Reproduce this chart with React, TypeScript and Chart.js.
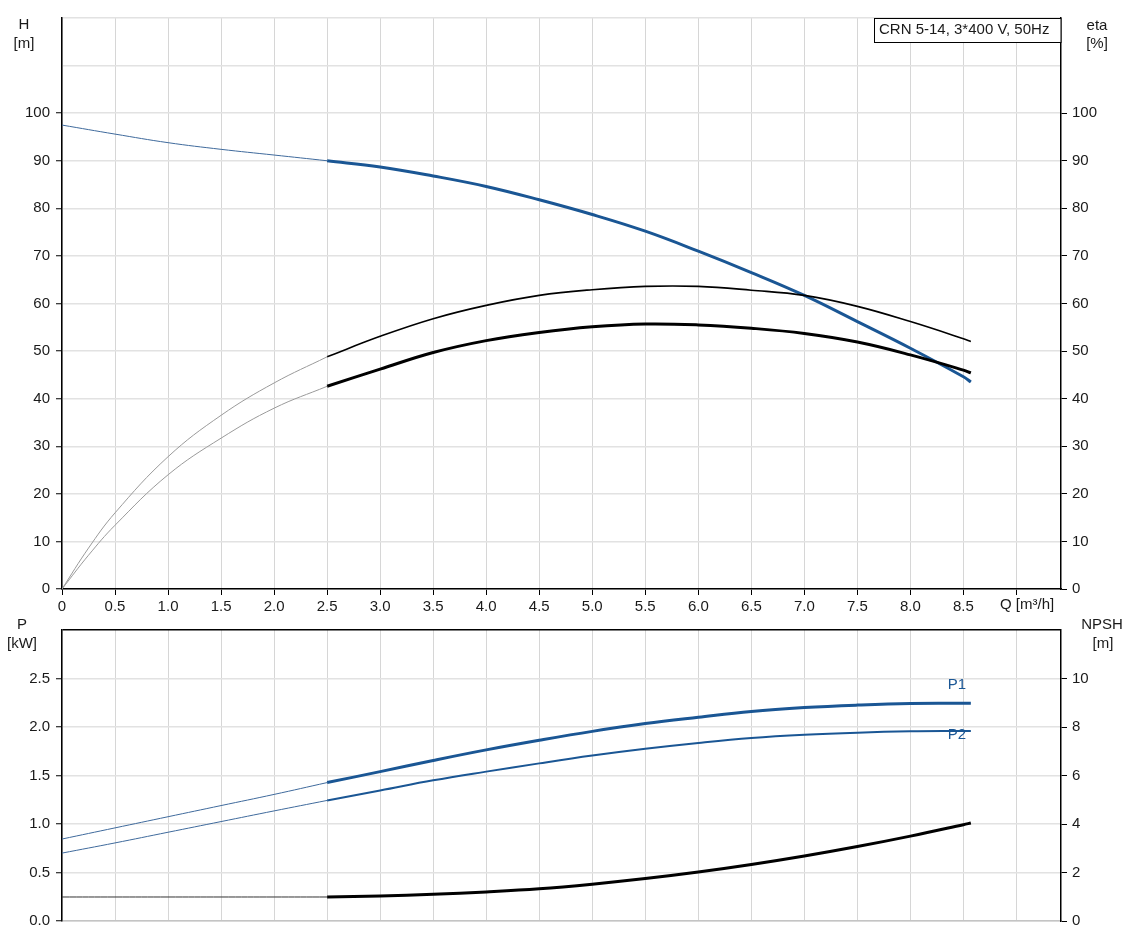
import React, { useEffect, useRef } from 'react';
import { Chart, registerables } from 'chart.js';

Chart.register(...registerables);

// ---------- data ----------
const qThin = [0, 0.5, 1.0, 1.5, 2.0, 2.5];
const qEtaThin = [0, 0.25, 0.5, 1.0, 1.5, 2.0, 2.5];
const qMain = [2.5, 3.0, 3.5, 4.0, 4.5, 5.0, 5.5, 6.0, 6.5, 7.0, 7.5, 8.0, 8.5, 8.57];

const headThin = [97.5, 95.6, 93.8, 92.4, 91.2, 90.0];
const headMain = [90.0, 88.7, 86.8, 84.6, 81.8, 78.7, 75.2, 71.0, 66.5, 61.7, 56.2, 50.6, 44.6, 43.5];

const etaUpperThin = [0, 8.6, 16.0, 27.8, 36.5, 43.3, 48.8];
const etaUpperMain = [48.8, 53.1, 56.8, 59.6, 61.7, 62.9, 63.6, 63.6, 62.8, 61.7, 59.4, 56.2, 52.6, 52.0];
const etaLowerThin = [0, 7.1, 13.4, 24.0, 31.7, 38.0, 42.6];
const etaLowerMain = [42.6, 46.2, 49.7, 52.2, 53.9, 55.1, 55.7, 55.5, 54.8, 53.7, 51.9, 49.2, 46.0, 45.4];

const p1Thin = [0.845, 0.96, 1.075, 1.19, 1.305, 1.427];
const p1Main = [1.427, 1.54, 1.655, 1.764, 1.863, 1.955, 2.035, 2.1, 2.16, 2.2, 2.226, 2.243, 2.245, 2.245];
const p2Thin = [0.7, 0.805, 0.915, 1.025, 1.135, 1.243];
const p2Main = [1.243, 1.345, 1.45, 1.54, 1.625, 1.705, 1.775, 1.835, 1.886, 1.92, 1.942, 1.955, 1.959, 1.96];
const npshThin = [0.99, 0.99, 0.99, 0.99, 0.99, 0.99];
const npshMain = [0.99, 1.03, 1.1, 1.2, 1.33, 1.52, 1.75, 2.02, 2.33, 2.68, 3.07, 3.5, 3.97, 4.04];

const qMin = 0;
const qMax = 9.42;
const qStep = 0.5;
const qAxisLabel = 'Q [m³/h]';
const hMax = 120;
const hLabelMax = 100;
const pMax = 3.0;
const npshMax = 12;
const infoText = 'CRN 5-14, 3*400 V, 50Hz';

// ---------- styles ----------
const FONT = '"Liberation Sans", Arial, sans-serif';
const FS = 15;
const BLUE = '#1a5694';
const TEXT = '#1a1a1a';
const GRID_V = '#d6d6d6';
const GRID_H = '#e2e2e2';

const line = (xs: number[], ys: number[], color: string, width: number, axis: string) => ({
  data: xs.map((x, i) => ({ x, y: ys[i] })),
  borderColor: color,
  backgroundColor: color,
  borderWidth: width,
  pointRadius: 0,
  fill: false,
  tension: 0.4,
  yAxisID: axis,
});

const tickMark = (limit: number) => (c: any) =>
  c.tick && c.tick.value > limit + 1e-9 ? 'rgba(0,0,0,0)' : '#000';

const topTexts = {
  id: 'topTexts',
  afterDraw(chart: any) {
    const ctx = chart.ctx;
    const a = chart.chartArea;
    ctx.save();
    ctx.font = `${FS}px ${FONT}`;
    ctx.fillStyle = TEXT;
    ctx.textAlign = 'center';
    ctx.textBaseline = 'middle';
    ctx.fillText('H', 24, 25);
    ctx.fillText('[m]', 24, 44);
    ctx.fillText('eta', 1097, 26);
    ctx.fillText('[%]', 1097, 44);
    // info box
    ctx.fillStyle = '#fff';
    ctx.fillRect(874, a.top, a.right - 874, 25);
    ctx.strokeStyle = '#000';
    ctx.lineWidth = 1;
    ctx.strokeRect(874.5, a.top + 0.5, a.right - 874.5, 24);
    ctx.fillStyle = TEXT;
    ctx.textAlign = 'left';
    ctx.fillText(infoText, 879, a.top + 11.5);
    // Q axis label
    ctx.fillText(qAxisLabel, 1000, 604.5);
    ctx.restore();
  },
};

const bottomTexts = {
  id: 'bottomTexts',
  afterDraw(chart: any) {
    const ctx = chart.ctx;
    ctx.save();
    ctx.font = `${FS}px ${FONT}`;
    ctx.fillStyle = TEXT;
    ctx.textAlign = 'center';
    ctx.textBaseline = 'middle';
    ctx.fillText('P', 22, 10);
    ctx.fillText('[kW]', 22, 29);
    ctx.fillText('NPSH', 1102, 10);
    ctx.fillText('[m]', 1103, 29);
    ctx.fillStyle = BLUE;
    ctx.fillText('P1', 957, 70);
    ctx.fillText('P2', 957, 120);
    ctx.restore();
  },
};

export default function App() {
  const topRef = useRef<HTMLCanvasElement>(null);
  const botRef = useRef<HTMLCanvasElement>(null);

  useEffect(() => {
    Chart.defaults.font.family = FONT;
    Chart.defaults.font.size = FS;
    Chart.defaults.color = TEXT;

    const top = new Chart(topRef.current as HTMLCanvasElement, {
      type: 'line',
      data: {
        datasets: [
          line(qThin, headThin, '#3f6a9c', 1, 'yH'),
          line(qEtaThin, etaUpperThin, '#9a9a9a', 1, 'yEta'),
          line(qEtaThin, etaLowerThin, '#9a9a9a', 1, 'yEta'),
          line(qMain, etaUpperMain, '#000', 1.6, 'yEta'),
          line(qMain, etaLowerMain, '#000', 3, 'yEta'),
          line(qMain, headMain, BLUE, 3, 'yH'),
        ] as any,
      },
      options: {
        animation: false,
        responsive: false,
        layout: { padding: { top: 18, left: 0, right: 0, bottom: 0 } },
        plugins: { legend: { display: false }, tooltip: { enabled: false } },
        scales: {
          x: {
            type: 'linear',
            min: qMin,
            max: qMax,
            ticks: {
              stepSize: qStep,
              includeBounds: false,
              autoSkip: false,
              maxRotation: 0,
              padding: 3,
              callback: (v: any) => (v === 0 ? '0' : v > 8.75 ? '' : Number(v).toFixed(1)),
            },
            grid: { color: GRID_V, lineWidth: 1, tickLength: 6, tickColor: '#000', tickWidth: 1 },
            border: { color: '#000', width: 1.5 },
            afterFit: (s: any) => { s.height = 26; },
          },
          yH: {
            type: 'linear',
            position: 'left',
            min: 0,
            max: hMax,
            ticks: { stepSize: 10, padding: 6, callback: (v: any) => (v > hLabelMax ? '' : String(v)) },
            grid: { color: GRID_H, lineWidth: 1.5, tickLength: 6, tickColor: tickMark(hLabelMax), tickWidth: 1 },
            border: { color: '#000', width: 1.5 },
            afterFit: (s: any) => { s.width = 62; },
          },
          yEta: {
            type: 'linear',
            position: 'right',
            min: 0,
            max: hMax,
            ticks: { stepSize: 10, padding: 5, callback: (v: any) => (v > hLabelMax ? '' : String(v)) },
            grid: { drawOnChartArea: false, tickLength: 6, tickColor: tickMark(hLabelMax), tickWidth: 1 },
            border: { color: '#000', width: 1.5 },
            afterFit: (s: any) => { s.width = 69; },
          },
        },
      } as any,
      plugins: [topTexts],
    });

    const bottom = new Chart(botRef.current as HTMLCanvasElement, {
      type: 'line',
      data: {
        datasets: [
          line(qThin, p1Thin, '#3f6a9c', 1, 'yP'),
          line(qThin, p2Thin, '#3f6a9c', 1, 'yP'),
          line(qThin, npshThin, '#333', 1, 'yN'),
          line(qMain, p1Main, BLUE, 3, 'yP'),
          line(qMain, p2Main, BLUE, 2, 'yP'),
          line(qMain, npshMain, '#000', 3, 'yN'),
        ] as any,
      },
      options: {
        animation: false,
        responsive: false,
        layout: { padding: { top: 3, left: 0, right: 0, bottom: 0 } },
        plugins: { legend: { display: false }, tooltip: { enabled: false } },
        scales: {
          x: {
            type: 'linear',
            min: qMin,
            max: qMax,
            ticks: { stepSize: qStep, includeBounds: false, display: false, autoSkip: false },
            grid: { color: GRID_V, lineWidth: 1, drawTicks: false },
            border: { color: '#c4c4c4', width: 1.5 },
            afterFit: (s: any) => { s.height = 21; },
          },
          yP: {
            type: 'linear',
            position: 'left',
            min: 0,
            max: pMax,
            ticks: { stepSize: 0.5, padding: 6, callback: (v: any) => (v > 2.75 ? '' : Number(v).toFixed(1)) },
            grid: {
              color: (c: any) => (c.tick && c.tick.value >= pMax ? '#000' : GRID_H),
              lineWidth: 1.5,
              tickLength: 6,
              tickColor: tickMark(2.5),
              tickWidth: 1,
            },
            border: { color: '#000', width: 1.5 },
            afterFit: (s: any) => { s.width = 62; },
          },
          yN: {
            type: 'linear',
            position: 'right',
            min: 0,
            max: npshMax,
            ticks: { stepSize: 2, padding: 5, callback: (v: any) => (v > 10 ? '' : String(v)) },
            grid: { drawOnChartArea: false, tickLength: 6, tickColor: tickMark(10), tickWidth: 1 },
            border: { color: '#000', width: 1.5 },
            afterFit: (s: any) => { s.width = 69; },
          },
        },
      } as any,
      plugins: [bottomTexts],
    });

    return () => {
      top.destroy();
      bottom.destroy();
    };
  }, []);

  return (
    <div style={{ position: 'absolute', left: 0, top: 0, width: 1130, height: 942, background: '#fff' }}>
      <canvas ref={topRef} width={1130} height={615} style={{ position: 'absolute', left: 0, top: 0, display: 'block' }} />
      <canvas ref={botRef} width={1130} height={327} style={{ position: 'absolute', left: 0, top: 615, display: 'block' }} />
    </div>
  );
}
